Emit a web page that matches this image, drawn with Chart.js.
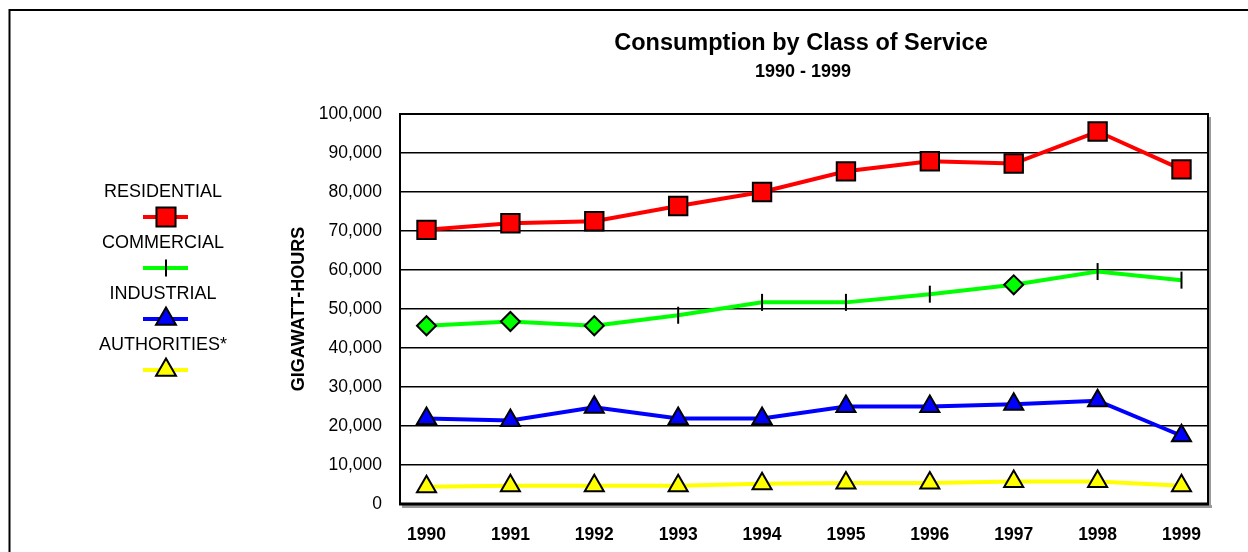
<!DOCTYPE html>
<html>
<head>
<meta charset="utf-8">
<title>Consumption by Class of Service</title>
<script src="https://cdn.jsdelivr.net/npm/chart.js@4.4.1/dist/chart.umd.min.js"></script>
<style>
    html, body { margin: 0; padding: 0; background: #fff; }
    #wrap { position: relative; width: 1248px; height: 552px; }
</style>
</head>
<body>
<div id="wrap"><canvas id="chart" width="1248" height="552"></canvas></div>
<script>
// Data (gigawatt-hours)
const years = [1990, 1991, 1992, 1993, 1994, 1995, 1996, 1997, 1998, 1999];
const seriesNames = ['RESIDENTIAL', 'COMMERCIAL', 'INDUSTRIAL', 'AUTHORITIES*'];
const residential = [70300, 72000, 72500, 76400, 80000, 85300, 87900, 87300, 95500, 85800];
const commercial  = [45700, 46800, 45700, 48400, 51700, 51700, 53800, 56200, 59600, 57400];
const industrial  = [21900, 21400, 24800, 21900, 21900, 25000, 25000, 25600, 26500, 17500];
const authorities = [4400, 4700, 4700, 4700, 5200, 5400, 5400, 5800, 5800, 4700];
const yTicks = [0, 10000, 20000, 30000, 40000, 50000, 60000, 70000, 80000, 90000, 100000];

const titleText = 'Consumption by Class of Service';
const subtitleText = '1990 - 1999';
const FONT = '"Liberation Sans", Arial, sans-serif';

// commercial markers switch between diamonds and vertical ticks
const commStyle = ['rectRot', 'rectRot', 'rectRot', 'line', 'line', 'line', 'line', 'rectRot', 'line', 'line'];

const toPoints = arr => arr.map((v, i) => ({ x: years[i], y: v }));

const decor = {
    id: 'decor',
    beforeDraw(chart) {
        const ctx = chart.ctx;
        ctx.save();
        ctx.fillStyle = '#fff';
        ctx.fillRect(0, 0, chart.width, chart.height);
        // outer page frame (runs off the right and bottom)
        ctx.strokeStyle = '#000';
        ctx.lineWidth = 2;
        ctx.beginPath();
        ctx.moveTo(9.5, chart.height + 5);
        ctx.lineTo(9.5, 10);
        ctx.lineTo(chart.width + 5, 10);
        ctx.stroke();
        // titles
        ctx.fillStyle = '#000';
        ctx.textAlign = 'center';
        ctx.textBaseline = 'middle';
        ctx.font = 'bold 23.5px ' + FONT;
        ctx.fillText(titleText, 801, 44);
        ctx.font = 'bold 18px ' + FONT;
        ctx.fillText(subtitleText, 803, 72);
        ctx.restore();
    },
    beforeDatasetsDraw(chart) {
        const ctx = chart.ctx;
        const a = chart.chartArea;
        ctx.save();
        // drop shadow
        ctx.fillStyle = '#9a9a9a';
        ctx.fillRect(a.left + 2, a.bottom + 1, a.right - a.left + 2, 3);
        ctx.fillRect(a.right + 1, a.top + 3, 2, a.bottom - a.top);
        // plot frame
        ctx.strokeStyle = '#000';
        ctx.lineWidth = 2;
        ctx.strokeRect(a.left, a.top, a.right - a.left, a.bottom - a.top);
        ctx.lineWidth = 3;
        ctx.beginPath();
        ctx.moveTo(a.left - 1, a.bottom);
        ctx.lineTo(a.right + 1, a.bottom);
        ctx.stroke();
        ctx.restore();
    },
    afterDraw(chart) {
        // legend on the left: name above, line sample with marker below
        const ctx = chart.ctx;
        const H = Chart.helpers;
        ctx.save();
        chart.data.datasets.forEach((ds, i) => {
            const ty = 192 + i * 51;
            const my = 217 + i * 51;
            ctx.fillStyle = '#000';
            ctx.font = '18px ' + FONT;
            ctx.textAlign = 'center';
            ctx.textBaseline = 'middle';
            ctx.fillText(ds.label, 163, ty);
            ctx.strokeStyle = ds.borderColor;
            ctx.lineWidth = 4;
            ctx.beginPath();
            ctx.moveTo(143, my);
            ctx.lineTo(188, my);
            ctx.stroke();
            ctx.fillStyle = ds.pointBackgroundColor;
            ctx.strokeStyle = '#000';
            ctx.lineWidth = 2;
            H.drawPoint(ctx, {
                pointStyle: ds.legendStyle,
                rotation: ds.legendStyle === 'line' ? 90 : 0,
                radius: ds.legendRadius,
                borderWidth: 2
            }, 166, my);
        });
        ctx.restore();
    }
};

new Chart(document.getElementById('chart'), {
    type: 'line',
    data: {
        datasets: [{
            label: seriesNames[0],
            data: toPoints(residential),
            borderColor: '#ff0000',
            pointBackgroundColor: '#ff0000',
            pointBorderColor: '#000',
            pointStyle: 'rect',
            pointRadius: 13,
            legendStyle: 'rect',
            legendRadius: 13.5
        }, {
            label: seriesNames[1],
            data: toPoints(commercial),
            borderColor: '#00ff00',
            pointBackgroundColor: '#00ff00',
            pointBorderColor: '#000',
            pointStyle: commStyle,
            pointRotation: commStyle.map(s => s === 'line' ? 90 : 0),
            pointRadius: commStyle.map(s => s === 'line' ? 8.5 : 9.5),
            legendStyle: 'line',
            legendRadius: 8.5
        }, {
            label: seriesNames[2],
            data: toPoints(industrial),
            borderColor: '#0000ff',
            pointBackgroundColor: '#0000ff',
            pointBorderColor: '#000',
            pointStyle: 'triangle',
            pointRadius: 11,
            legendStyle: 'triangle',
            legendRadius: 11.5
        }, {
            label: seriesNames[3],
            data: toPoints(authorities),
            borderColor: '#ffff00',
            pointBackgroundColor: '#ffff00',
            pointBorderColor: '#000',
            pointStyle: 'triangle',
            pointRadius: 11,
            legendStyle: 'triangle',
            legendRadius: 11.5
        }]
    },
    options: {
        responsive: false,
        animation: false,
        events: [],
        layout: { padding: { left: 288, top: 114, right: 40, bottom: 0 } },
        elements: {
            line: { borderWidth: 4, tension: 0 },
            point: { borderWidth: 2 }
        },
        plugins: {
            legend: { display: false },
            title: { display: false },
            tooltip: { enabled: false }
        },
        scales: {
            x: {
                type: 'linear',
                min: 1989.684,
                max: 1999.316,
                afterFit(s) { s.height = 48; },
                afterBuildTicks(s) { s.ticks = years.map(v => ({ value: v })); },
                ticks: {
                    autoSkip: false,
                    maxRotation: 0,
                    padding: 13,
                    color: '#000',
                    font: { family: FONT, size: 17.5, weight: 'bold' },
                    callback: v => String(v)
                },
                grid: { display: false },
                border: { display: false }
            },
            y: {
                min: 0,
                max: 100000,
                afterFit(s) { s.width = 112; },
                afterBuildTicks(s) { s.ticks = yTicks.map(v => ({ value: v })); },
                ticks: {
                    padding: 18,
                    color: '#000',
                    font: { family: FONT, size: 17.5 },
                    callback: v => v.toLocaleString('en-US')
                },
                grid: { color: '#000', lineWidth: 1.5, drawTicks: false },
                border: { display: false },
                title: {
                    display: true,
                    text: 'GIGAWATT-HOURS',
                    color: '#000',
                    padding: 0,
                    font: { family: FONT, size: 18, weight: 'bold' }
                }
            }
        }
    },
    plugins: [decor]
});
</script>
</body>
</html>
